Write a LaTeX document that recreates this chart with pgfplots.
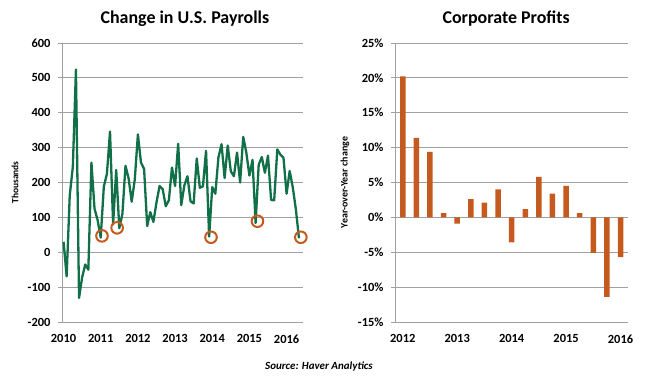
\documentclass[border=0pt]{standalone}
\usepackage{pgfplots}
\pgfplotsset{compat=1.18}
\usepackage{fontspec}
\setmainfont{Carlito}
\definecolor{pgreen}{RGB}{18,112,72}
\definecolor{porange}{RGB}{197,90,30}
\definecolor{gridgray}{RGB}{160,160,160}
\begin{document}
\begin{tikzpicture}
\useasboundingbox (0bp,0bp) rectangle (650bp,-380bp);
\pgfplotsset{
  common/.style={
    scale only axis,
    axis y line*=left, axis x line*=bottom,
    x axis line style={draw=none},
    y axis line style={draw=gridgray, line width=0.9bp, -},
    ymajorgrids, grid style={gridgray, line width=0.9bp},
    xtick style={draw=none},
    ytick style={draw=gridgray, line width=0.9bp},
    tick align=outside, major tick length=4bp,
    ticklabel style={font=\bfseries\fontsize{12.5}{13}\selectfont, text=black},
    yticklabel style={xshift=-4bp},
    xticklabel style={yshift=-5bp},
    /pgf/number format/assume math mode=true,
    /pgf/number format/1000 sep={},
    enlargelimits=false,
    clip=false,
  }
}
% ---------------- Left: payrolls ----------------
\begin{axis}[common,
  at={(62bp,-322bp)}, anchor=south west,
  width=241bp, height=279bp,
  xmin=-0.5, xmax=77.3, ymin=-200, ymax=600,
  ytick={-200,-100,...,600},
  xtick={0,12,24,36,48,60,72},
  xticklabels={2010,2011,2012,2013,2014,2015,2016},
  ylabel={Thousands},
  every axis y label/.style={at={(axis description cs:-0.195,0.5)}, rotate=90, anchor=center, font=\bfseries\fontsize{9.5}{10}\selectfont},
  title={Change in U.S. Payrolls},
  every axis title/.style={at={(axis description cs:0.51,1)}, yshift=19.5bp, anchor=base, font=\bfseries\fontsize{18}{20}\selectfont},
]
\addplot[pgreen, line width=2.3bp, line join=round] table {
t y
0 30
1 -69
2 163
3 245
4 524
5 -131
6 -72
7 -35
8 -50
9 257
10 125
11 92
12 42
13 188
14 225
15 346
16 80
17 236
18 69
19 110
20 248
21 212
22 145
23 209
24 338
25 257
26 239
27 75
28 115
29 87
30 143
31 190
32 181
33 132
34 149
35 243
36 190
37 311
38 135
39 192
40 218
41 146
42 140
43 269
44 185
45 189
46 291
47 45
48 187
49 168
50 272
51 310
52 213
53 306
54 232
55 218
56 286
57 200
58 331
59 286
60 220
61 265
62 84
63 251
64 273
65 228
66 277
67 150
68 149
69 295
70 280
71 271
72 168
73 233
74 186
75 123
76 40
};
\addplot[only marks, mark=o, mark size=5.8bp, porange, mark options={line width=2bp}] coordinates {
(12.4,47) (17.3,70) (47.6,43) (62.6,89) (76.6,43)};
\end{axis}
% ---------------- Right: profits ----------------
\begin{axis}[common,
  at={(395bp,-322bp)}, anchor=south west,
  width=233bp, height=279bp,
  xmin=-0.57, xmax=16.55, ymin=-15, ymax=25,
  ytick={-15,-10,...,25},
  yticklabel={\pgfmathprintnumber{\tick}\%},
  xtick={0,4,8,12,16},
  xticklabels={2012,2013,2014,2015,2016},
  ylabel={Year-over-Year change},
  every axis y label/.style={at={(axis description cs:-0.215,0.5)}, rotate=90, anchor=center, font=\bfseries\fontsize{10}{11}\selectfont},
  title={Corporate Profits},
  every axis title/.style={at={(axis description cs:0.477,1)}, yshift=19.5bp, anchor=base, font=\bfseries\fontsize{18}{20}\selectfont},
]
\addplot[ybar, bar width=5.5bp, fill=porange, draw=none] table {
q v
0 20.2
1 11.4
2 9.4
3 0.6
4 -0.9
5 2.6
6 2.1
7 4.0
8 -3.6
9 1.2
10 5.8
11 3.4
12 4.5
13 0.6
14 -5.1
15 -11.4
16 -5.7
};
\end{axis}
\node[font=\bfseries\itshape\fontsize{11}{12}\selectfont, anchor=center] at (319bp,-367bp) {Source: Haver Analytics};
\end{tikzpicture}
\end{document}
